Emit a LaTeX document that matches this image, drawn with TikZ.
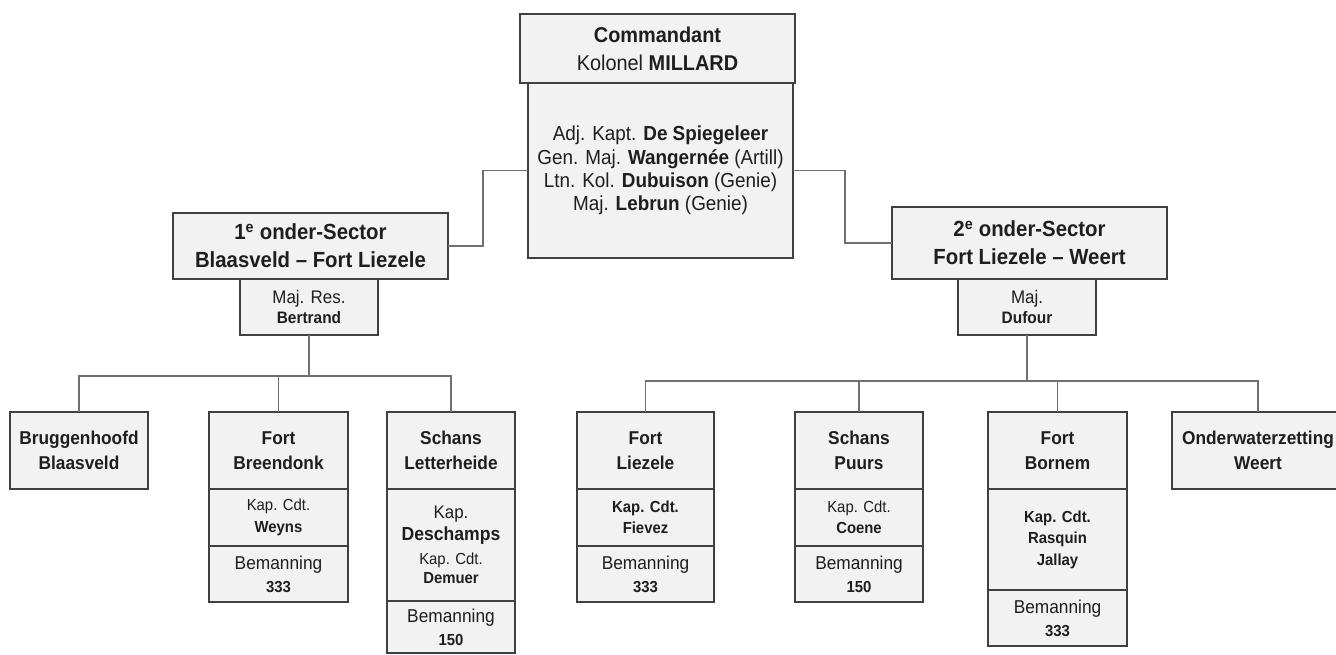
\documentclass[tikz,border=0pt]{standalone}
\usepackage{fontspec}
\setmainfont{Liberation Sans}[FakeStretch=0.93]
\usetikzlibrary{positioning}
\definecolor{boxfill}{HTML}{F2F2F2}
\definecolor{boxline}{HTML}{404040}
\definecolor{linegrey}{HTML}{707070}
\definecolor{ink}{HTML}{1E1E1E}
\tikzset{
  box/.style={draw=boxline, fill=boxfill, line width=1.2pt, inner sep=0pt, outer sep=0pt, align=center, text=ink},
  head/.style={box, font=\bfseries\fontsize{18.6}{25}\selectfont, minimum height=77pt},
  cdt/.style={box, font=\fontsize{16}{21.5}\selectfont},
  crew/.style={box, font=\fontsize{18.6}{23}\selectfont, minimum height=56pt},
  link/.style={draw=linegrey, line width=1.3pt},
}
\newcommand{\crewtext}[1]{Bemanning\\{\fontsize{16}{23}\selectfont\bfseries #1}}
\begin{document}
\begin{tikzpicture}[x=1pt,y=-1pt]
\useasboundingbox[fill=white] (0,0) rectangle (1336,655);
% staf
\node[box, minimum width=275pt, minimum height=69pt, font=\fontsize{21.4}{28}\selectfont] (cmd) at (657.5,48.5)
  {\textbf{Commandant}\\Kolonel \textbf{MILLARD}};
\node[box, minimum width=265pt, minimum height=175pt, font=\fontsize{20.3}{23.3}\selectfont] (staff) at (660.5,170.5)
  {Adj. Kapt. \textbf{De Spiegeleer}\\Gen. Maj. \textbf{Wangernée} (Artill)\\Ltn. Kol. \textbf{Dubuison} (Genie)\\Maj. \textbf{Lebrun} (Genie)};
% onder-sectoren
\node[box, minimum width=275pt, minimum height=66pt, font=\bfseries\fontsize{21.9}{28}\selectfont] (sec1) at (310.5,246)
  {1\textsuperscript{e} onder-Sector\\Blaasveld – Fort Liezele};
\node[box, minimum width=138pt, minimum height=56pt, font=\fontsize{18.2}{20}\selectfont] (maj1) at (309,307)
  {Maj. Res.\\{\fontsize{16.6}{20}\selectfont\bfseries Bertrand}};
\node[box, minimum width=275pt, minimum height=72pt, font=\bfseries\fontsize{21.9}{28}\selectfont] (sec2) at (1029.5,243)
  {2\textsuperscript{e} onder-Sector\\Fort Liezele – Weert};
\node[box, minimum width=138pt, minimum height=56pt, font=\fontsize{18.2}{20}\selectfont] (maj2) at (1027,307)
  {Maj.\\{\fontsize{16.6}{20}\selectfont\bfseries Dufour}};
\draw[link] (staff.west) -- ++(-45,0) |- (sec1.east);
\draw[link] (staff.east) -- ++(52,0) |- (sec2.west);
% 1e onder-sector
\node[head, minimum width=138pt] (brug) at (79,450.5) {Bruggenhoofd\\Blaasveld};
\node[head, minimum width=139pt] (breen) at (278.5,450.5) {Fort\\Breendonk};
\node[cdt, minimum width=139pt, minimum height=57pt, below=0pt of breen] (breencdt) {Kap. Cdt.\\\textbf{Weyns}};
\node[crew, minimum width=139pt, below=0pt of breencdt] (breencrew) {\crewtext{333}};
\node[head, minimum width=128pt] (letter) at (451,450.5) {Schans\\Letterheide};
\node[cdt, minimum width=128pt, minimum height=112pt, below=0pt of letter] (lettercdt)
  {{\fontsize{18.2}{24}\selectfont Kap.}\\{\fontsize{18.9}{24}\selectfont\bfseries Deschamps}\\[3pt]Kap. Cdt.\\[-3pt]\textbf{Demuer}};
\node[crew, minimum width=128pt, minimum height=52pt, below=0pt of lettercdt] (lettercrew) {\crewtext{150}};
\coordinate (bar1) at (0,376);
\draw[link] (brug.north) |- (bar1 -| letter.north) -- (letter.north);
\draw[link] (breen.north) -- (breen.north |- bar1);
\draw[link, line width=2.8pt] (maj1.south) -- (maj1.south |- bar1);
% 2e onder-sector
\node[head, minimum width=137pt] (liez) at (645.5,450.5) {Fort\\Liezele};
\node[cdt, minimum width=137pt, minimum height=57pt, below=0pt of liez, font=\bfseries\fontsize{16}{21.5}\selectfont] (liezcdt) {Kap. Cdt.\\Fievez};
\node[crew, minimum width=137pt, below=0pt of liezcdt] (liezcrew) {\crewtext{333}};
\node[head, minimum width=128pt] (puurs) at (859,450.5) {Schans\\Puurs};
\node[cdt, minimum width=128pt, minimum height=57pt, below=0pt of puurs] (puurscdt) {Kap. Cdt.\\\textbf{Coene}};
\node[crew, minimum width=128pt, below=0pt of puurscdt] (puurscrew) {\crewtext{150}};
\node[head, minimum width=139pt] (bornem) at (1057.5,450.5) {Fort\\Bornem};
\node[cdt, minimum width=139pt, minimum height=101pt, below=0pt of bornem, font=\bfseries\fontsize{16}{21.5}\selectfont] (bornemcdt) {Kap. Cdt.\\Rasquin\\Jallay};
\node[crew, minimum width=139pt, below=0pt of bornemcdt] (bornemcrew) {\crewtext{333}};
\node[head, minimum width=172pt] (onder) at (1258,450.5) {Onderwaterzetting\\Weert};
\coordinate (bar2) at (0,381);
\draw[link] (liez.north) |- (bar2 -| onder.north) -- (onder.north);
\draw[link] (puurs.north) -- (puurs.north |- bar2);
\draw[link] (bornem.north) -- (bornem.north |- bar2);
\draw[link] (maj2.south) -- (maj2.south |- bar2);
\end{tikzpicture}
\end{document}
